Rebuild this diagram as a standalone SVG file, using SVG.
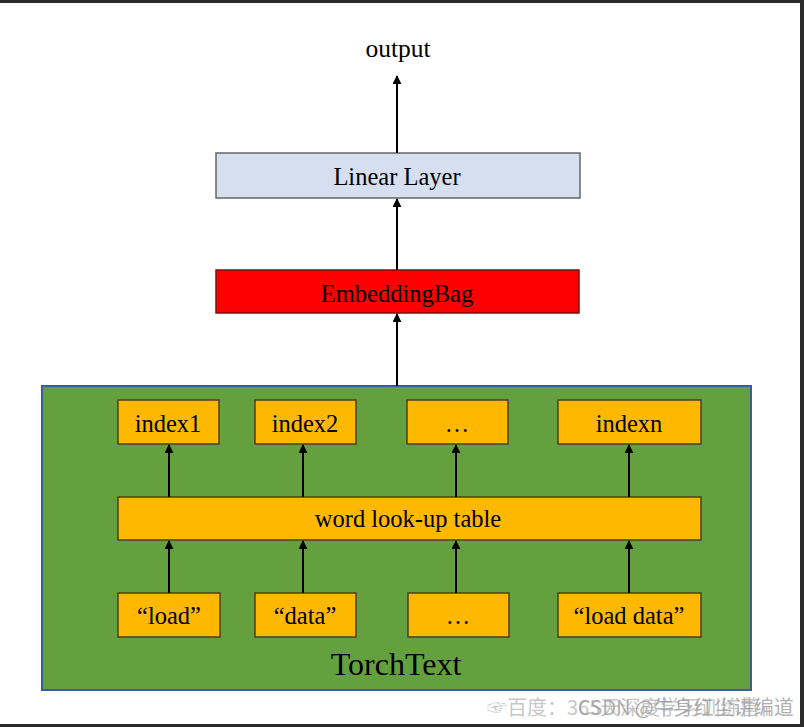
<svg xmlns="http://www.w3.org/2000/svg" width="804" height="727" viewBox="0 0 804 727">
<defs>
<marker id="ah" viewBox="0 0 10 10" refX="9" refY="5" markerWidth="4.5" markerHeight="4.5" orient="auto" markerUnits="strokeWidth">
<path d="M0,0 L10,5 L0,10 z" fill="#000"/>
</marker>
</defs>
<style>
.t{font-family:"Liberation Serif","Times New Roman",serif;fill:#000;text-anchor:middle;font-size:24.5px}
.o{fill:#ffb800;stroke:#4a4020;stroke-width:1.5}
.c{stroke:#000;stroke-width:2;fill:none;marker-end:url(#ah)}
.wm{font-family:"Noto Sans CJK SC",sans-serif;font-size:20px}
</style>
<rect x="0" y="0" width="804" height="727" fill="#fff"/>
<rect x="0" y="0" width="804" height="3" fill="#2b2b2b"/>
<rect x="800" y="0" width="4" height="727" fill="#2b2b2b"/>
<rect x="0" y="724" width="804" height="3" fill="#2b2b2b"/>

<g id="output"><text class="t" x="398" y="57" style="font-size:25.5px">output</text></g>
<g id="linear"><rect x="216" y="153" width="364" height="45" fill="#d6dff0" stroke="#666" stroke-width="1.5"/><text class="t" x="397" y="185">Linear Layer</text></g>
<g id="embedding"><rect x="216" y="270" width="363" height="43" fill="#ff0000" stroke="#7a1010" stroke-width="1.5"/><text class="t" x="397" y="302">EmbeddingBag</text></g>
<g id="torchtext"><rect x="42" y="386" width="709" height="304" fill="#64a03e" stroke="#3a5ca0" stroke-width="2"/><text class="t" x="396" y="675" style="font-size:32px">TorchText</text></g>
<g id="index1"><rect class="o" x="118" y="400" width="101" height="44"/><text class="t" x="168" y="432">index1</text></g>
<g id="index2"><rect class="o" x="255" y="400" width="101" height="44"/><text class="t" x="305" y="432">index2</text></g>
<g id="index3"><rect class="o" x="407" y="400" width="101" height="44"/><text class="t" x="457" y="432">…</text></g>
<g id="indexn"><rect class="o" x="558" y="400" width="143" height="44"/><text class="t" x="629" y="432">indexn</text></g>
<g id="lookup"><rect class="o" x="118" y="497" width="583" height="43"/><text class="t" x="408" y="527">word look-up table</text></g>
<g id="w1"><rect class="o" x="118" y="593" width="102" height="44"/><text class="t" x="169" y="624">“load”</text></g>
<g id="w2"><rect class="o" x="255" y="593" width="101" height="44"/><text class="t" x="305" y="624">“data”</text></g>
<g id="w3"><rect class="o" x="408" y="593" width="101" height="44"/><text class="t" x="458" y="624">…</text></g>
<g id="wn"><rect class="o" x="558" y="593" width="143" height="44"/><text class="t" x="629" y="624">“load data”</text></g>

<g id="connectors">
<line class="c" x1="397" y1="153" x2="397" y2="76"/>
<line class="c" x1="397" y1="270" x2="397" y2="199"/>
<line class="c" x1="397" y1="386" x2="397" y2="314"/>
<line class="c" x1="169" y1="497" x2="169" y2="445"/>
<line class="c" x1="303" y1="497" x2="303" y2="445"/>
<line class="c" x1="456" y1="497" x2="456" y2="445"/>
<line class="c" x1="629" y1="497" x2="629" y2="445"/>
<line class="c" x1="169" y1="593" x2="169" y2="541"/>
<line class="c" x1="303" y1="593" x2="303" y2="541"/>
<line class="c" x1="456" y1="593" x2="456" y2="541"/>
<line class="c" x1="629" y1="593" x2="629" y2="541"/>
</g>

<g id="watermark">
<text class="wm" x="487" y="715" fill="#c8c8c8">☞百度：365天深度学习训练营</text>
<text class="wm" x="578" y="715" fill="#9a9a9a" fill-opacity="0.8">CSDN @牛身红尘讲编道</text>
</g>
</svg>
